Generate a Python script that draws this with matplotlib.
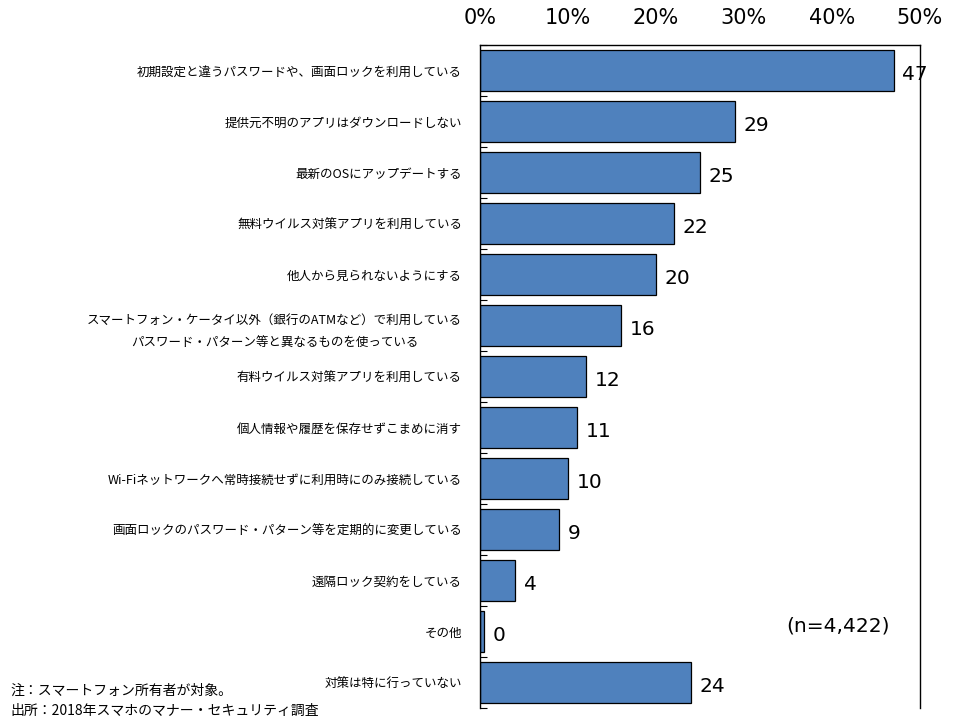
#!/usr/bin/env python3

import numpy as np
import matplotlib
matplotlib.use('Agg')
import matplotlib.pyplot as plt
from matplotlib.ticker import FixedLocator

plt.rcParams['font.family'] = ['Noto Sans CJK JP', 'DejaVu Sans']

categories = [
    '初期設定と違うパスワードや、画面ロックを利用している',
    '提供元不明のアプリはダウンロードしない',
    '最新のOSにアップデートする',
    '無料ウイルス対策アプリを利用している',
    '他人から見られないようにする',
    'スマートフォン・ケータイ以外（銀行のATMなど）で利用している\nパスワード・パターン等と異なるものを使っている',
    '有料ウイルス対策アプリを利用している',
    '個人情報や履歴を保存せずこまめに消す',
    'Wi-Fiネットワークへ常時接続せずに利用時にのみ接続している',
    '画面ロックのパスワード・パターン等を定期的に変更している',
    '遠隔ロック契約をしている',
    'その他',
    '対策は特に行っていない',
]
values = [47, 29, 25, 22, 20, 16, 12, 11, 10, 9, 4, 0.4, 24]
x_ticks = [0, 10, 20, 30, 40, 50]
note_lines = ['注：スマートフォン所有者が対象。',
              '出所：2018年スマホのマナー・セキュリティ調査']
n_label = '(n=4,422)'

fig = plt.figure(figsize=(9.6, 7.2), dpi=100)
ax = fig.add_axes([0.5, 0.0167, 0.4583, 0.9208])

y = np.arange(len(categories))
ax.barh(y, values, height=0.82, color='#4F81BD', edgecolor='black', linewidth=0.9)

for yi, v in zip(y, values):
    ax.text(v + 1.0, yi + 0.08, f'{round(v)}', va='center', ha='left',
            fontsize=14.5, family='DejaVu Sans')

ax.set_xlim(0, 50)
ax.set_ylim(len(categories) - 0.5, -0.5)

ax.xaxis.tick_top()
ax.set_xticks(x_ticks)
ax.set_xticklabels([f'{t}%' for t in x_ticks], fontsize=15, family='DejaVu Sans')
ax.tick_params(axis='x', length=0, pad=12)

ax.set_yticks(y)
ax.set_yticklabels(categories, fontsize=9)
for lab in ax.get_yticklabels():
    lab.set_multialignment('center')
    lab.set_linespacing(2.0)
ax.tick_params(axis='y', which='major', length=0, pad=13)
ax.yaxis.set_minor_locator(FixedLocator(np.arange(-0.5, len(categories), 1.0)))
ax.tick_params(axis='y', which='minor', direction='in', length=5, width=0.8)

ax.spines['bottom'].set_visible(False)
for s in ['top', 'left', 'right']:
    ax.spines[s].set_linewidth(1.0)

fig.text(0.927, 0.131, n_label, fontsize=14.5,
         ha='right', va='center', family='DejaVu Sans')
fig.text(0.011, 0.041, note_lines[0], fontsize=10, ha='left', va='center')
fig.text(0.011, 0.013, note_lines[1], fontsize=10, ha='left', va='center')

fig.savefig('out.png', dpi=100)
